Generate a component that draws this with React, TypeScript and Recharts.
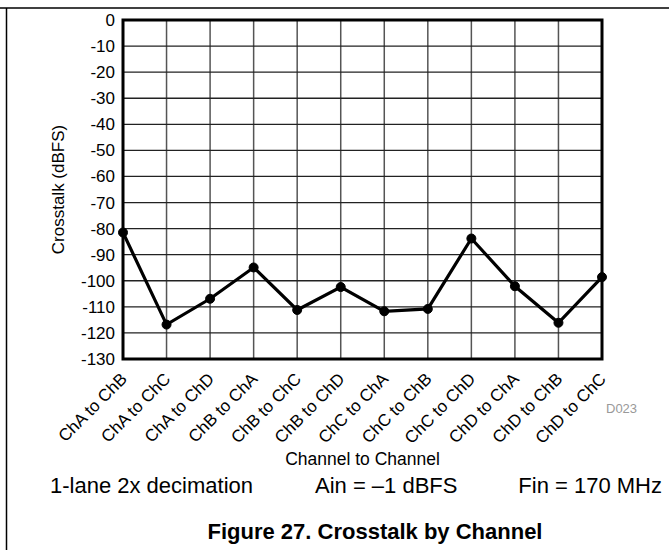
import { LineChart, Line, XAxis, YAxis, CartesianGrid, ReferenceArea } from "recharts";

const channels = [
  "ChA to ChB",
  "ChA to ChC",
  "ChA to ChD",
  "ChB to ChA",
  "ChB to ChC",
  "ChB to ChD",
  "ChC to ChA",
  "ChC to ChB",
  "ChC to ChD",
  "ChD to ChA",
  "ChD to ChB",
  "ChD to ChC",
];
const crosstalk = [-81.5, -116.8, -106.9, -94.9, -111.2, -102.4, -111.7, -110.8, -83.8, -102.1, -116.1, -98.6];
const yTicks = [0, -10, -20, -30, -40, -50, -60, -70, -80, -90, -100, -110, -120, -130];

const data = channels.map((c, i) => ({ channel: c, value: crosstalk[i] }));

const FONT = "'Liberation Sans', Arial, Helvetica, sans-serif";

function XTick({ x, y, payload }: any) {
  const tx = x + 5;
  const ty = y + 13;
  return (
    <text
      x={tx}
      y={ty}
      transform={`rotate(-45 ${tx} ${ty})`}
      textAnchor="end"
      fontSize={17}
      fontFamily={FONT}
      fill="#000"
    >
      {payload.value}
    </text>
  );
}

export default function App() {
  return (
    <div style={{ position: "absolute", left: 0, top: 0, width: 669, height: 550, background: "#fff" }}>
      <LineChart
        width={669}
        height={550}
        data={data}
        margin={{ top: 20, right: 67, bottom: 91, left: 63 }}
      >
        <CartesianGrid horizontal={false} stroke="#555" strokeWidth={1.5} />
        <CartesianGrid vertical={false} stroke="#222" strokeWidth={1.3} />
        <XAxis
          dataKey="channel"
          height={100}
          interval={0}
          axisLine={false}
          tickLine={false}
          tick={<XTick />}
        />
        <YAxis
          width={60}
          domain={[-130, 0]}
          ticks={yTicks}
          interval={0}
          axisLine={false}
          tickLine={false}
          tick={{ fontSize: 17, fill: "#000", fontFamily: FONT }}
        />
        <ReferenceArea y1={-130} y2={0} fill="none" stroke="#000" strokeWidth={3} ifOverflow="visible" />
        <Line
          type="linear"
          dataKey="value"
          stroke="#000"
          strokeWidth={3.2}
          dot={{ r: 4.5, fill: "#000", stroke: "#000", strokeWidth: 1 }}
          activeDot={false}
          isAnimationActive={false}
        />
      </LineChart>
      <svg
        width={669}
        height={550}
        style={{ position: "absolute", left: 0, top: 0, pointerEvents: "none" }}
        fontFamily={FONT}
      >
        <line x1={0} y1={8} x2={669} y2={8} stroke="#000" strokeWidth={1.5} />
        <line x1={6.5} y1={8} x2={6.5} y2={550} stroke="#000" strokeWidth={1.5} />
        <text
          x={58}
          y={189.5}
          transform="rotate(-90 58 189.5)"
          textAnchor="middle"
          dominantBaseline="central"
          fontSize={17}
          fill="#000"
        >
          Crosstalk (dBFS)
        </text>
        <text x={606} y={413} fontSize={13} fill="#999">
          D023
        </text>
        <text x={362.5} y={465} textAnchor="middle" fontSize={17.5} fill="#000">
          Channel to Channel
        </text>
        <text x={50} y={493} fontSize={22} fill="#000">
          1-lane 2x decimation
        </text>
        <text x={315} y={493} fontSize={22} fill="#000">
          Ain = –1 dBFS
        </text>
        <text x={662} y={493} textAnchor="end" fontSize={22} fill="#000">
          Fin = 170 MHz
        </text>
        <text x={375} y={539} textAnchor="middle" fontSize={22} fontWeight="bold" fill="#000">
          Figure 27. Crosstalk by Channel
        </text>
      </svg>
    </div>
  );
}
